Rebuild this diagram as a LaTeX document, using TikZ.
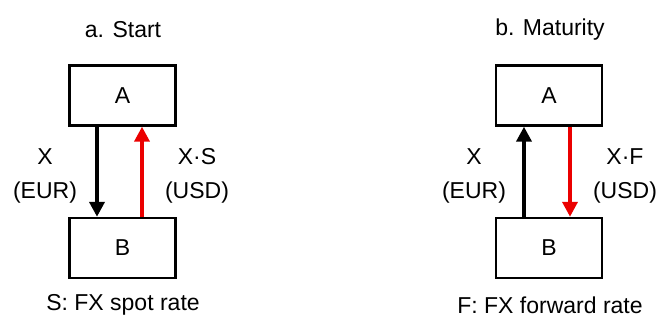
\documentclass[tikz,border=0pt]{standalone}
\usepackage{fontspec}
\setmainfont{Liberation Sans}
\usetikzlibrary{arrows.meta}
\definecolor{flowred}{RGB}{235,0,0}
\begin{document}
\begin{tikzpicture}[x=1pt,y=-1pt,
  party/.style={draw,line width=2.4pt,minimum width=106pt,minimum height=60pt,
    inner sep=0pt,font=\fontsize{23}{28}\selectfont},
  txt/.style={inner sep=0pt,font=\fontsize{23}{34}\selectfont,align=center},
  flow/.style={line width=4pt,-{Triangle[width=15pt,length=15pt]}},
  cashred/.style={flow,color=flowred,line width=3.6pt}]
\useasboundingbox (0,0) rectangle (658,320);

% a. Start
\node[txt] (ta) at (123,30) {a. Start};
\node[party] (la) at (122.5,95.5) {A};
\node[party] (lb) at (122.5,248) {B};
\draw[flow] ([xshift=-25.5pt]la.south) -- ([xshift=-25.5pt]lb.north);
\draw[cashred] ([xshift=19.5pt]lb.north) -- ([xshift=19.5pt]la.south);
\node[txt] (lx) at (45,176) {X\\(EUR)};
\node[txt] (ls) at (197,176) {X·S\\(USD)};
\node[txt] (ca) at (123,305) {S: FX spot rate};

% b. Maturity
\node[txt] (tb) at (550,30) {b. Maturity};
\node[party] (ra) at (549,95.5) {A};
\node[party] (rb) at (549,248) {B};
\draw[flow] ([xshift=-25pt]rb.north) -- ([xshift=-25pt]ra.south);
\draw[cashred] ([xshift=21pt]ra.south) -- ([xshift=21pt]rb.north);
\node[txt] (rx) at (474,176) {X\\(EUR)};
\node[txt] (rf) at (625,176) {X·F\\(USD)};
\node[txt] (cb) at (550,305) {F: FX forward rate};
\end{tikzpicture}
\end{document}
